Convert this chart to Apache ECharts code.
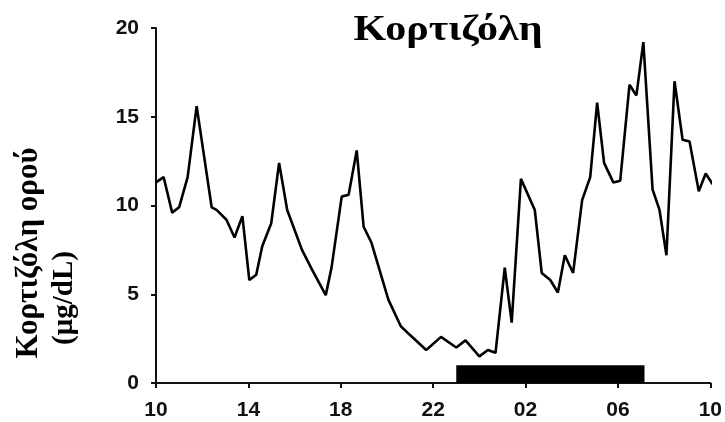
<!DOCTYPE html>
<html>
<head>
<meta charset="utf-8">
<script src="https://cdn.jsdelivr.net/npm/echarts@6/dist/echarts.min.js"></script>
<style>html,body{margin:0;padding:0;background:#fff}#c{width:725px;height:422px}</style>
</head>
<body>
<div id="c"></div>
<script>
// Hours elapsed since 10:00 (clock time of each sample)
var hours = [0, 0.33, 0.7, 1.0, 1.37, 1.76, 2.41, 2.62, 3.05, 3.4, 3.74, 4.04, 4.34, 4.6, 4.99, 5.33, 5.68, 6.32, 6.75, 7.35, 7.6, 8.04, 8.34, 8.69, 8.99, 9.33, 10.06, 10.6, 11.0, 11.7, 12.34, 13.0, 13.4, 14.0, 14.37, 14.7, 15.1, 15.4, 15.8, 16.4, 16.7, 17.07, 17.4, 17.7, 18.06, 18.45, 18.8, 19.1, 19.4, 19.8, 20.1, 20.5, 20.8, 21.1, 21.5, 21.8, 22.1, 22.45, 22.8, 23.1, 23.5, 23.8, 24.1];
// Serum cortisol (μg/dL)
var cortisol = [11.3, 11.6, 9.6, 9.9, 11.6, 15.6, 9.9, 9.75, 9.2, 8.2, 9.4, 5.8, 6.1, 7.7, 9.0, 12.4, 9.75, 7.5, 6.4, 4.95, 6.5, 10.5, 10.6, 13.1, 8.8, 7.9, 4.7, 3.2, 2.7, 1.86, 2.6, 2.0, 2.4, 1.5, 1.86, 1.7, 6.5, 3.4, 11.5, 9.75, 6.2, 5.8, 5.1, 7.2, 6.2, 10.3, 11.6, 15.8, 12.4, 11.3, 11.4, 16.8, 16.2, 19.2, 10.9, 9.75, 7.2, 17.0, 13.7, 13.6, 10.8, 11.8, 11.2];
var xTickLabels = ['10', '14', '18', '22', '02', '06', '10'];
var yTicks = [0, 5, 10, 15, 20];
// Sleep period bar (hours since 10:00) and its height in axis units
var sleepStart = 13.0;
var sleepEnd = 21.15;
var sleepHeight = 1.0;

var titleText = 'Κορτιζόλη';
var yNameLine1 = 'Κορτιζόλη ορού';
var yNameLine2 = '(μg/dL)';

var chart = echarts.init(document.getElementById('c'));
var points = hours.map(function (h, i) { return [h, cortisol[i]]; });

chart.setOption({
  animation: false,
  backgroundColor: '#ffffff',
  grid: { left: 156, right: 10, top: 28, bottom: 39 },
  xAxis: {
    type: 'value', min: 0, max: 24, interval: 4,
    axisLine: { show: true, onZero: false, lineStyle: { color: '#111', width: 2 } },
    axisTick: { show: true, length: 5, lineStyle: { color: '#111', width: 2 } },
    splitLine: { show: false },
    axisLabel: {
      margin: 17, color: '#111', fontFamily: 'Liberation Sans', fontWeight: 'bold', fontSize: 21,
      formatter: function (v) { return xTickLabels[Math.round(v / 4)]; }
    }
  },
  yAxis: {
    type: 'value', min: yTicks[0], max: yTicks[yTicks.length - 1], interval: 5,
    axisLine: { show: true, lineStyle: { color: '#111', width: 2 } },
    axisTick: { show: true, length: 5, lineStyle: { color: '#111', width: 2 } },
    splitLine: { show: false },
    axisLabel: { margin: 17, color: '#111', fontFamily: 'Liberation Sans', fontWeight: 'bold', fontSize: 21 }
  },
  graphic: [
    {
      type: 'text', x: 448, y: 31, scaleX: 1.2,
      style: { text: titleText, fontFamily: 'Liberation Serif', fontWeight: 'bold', fontSize: 35, fill: '#000', textAlign: 'center', textVerticalAlign: 'middle' }
    },
    {
      type: 'text', x: 29, y: 253, rotation: Math.PI / 2,
      style: { text: yNameLine1, fontFamily: 'Liberation Serif', fontWeight: 'bold', fontSize: 31, fill: '#000', textAlign: 'center', textVerticalAlign: 'middle' }
    },
    {
      type: 'text', x: 65, y: 298, rotation: Math.PI / 2,
      style: { text: yNameLine2, fontFamily: 'Liberation Serif', fontWeight: 'bold', fontSize: 29, fill: '#000', textAlign: 'center', textVerticalAlign: 'middle' }
    }
  ],
  series: [{
    type: 'line',
    data: points,
    showSymbol: false,
    lineStyle: { color: '#000', width: 2.6 },
    clip: false,
    markArea: {
      silent: true,
      itemStyle: { color: '#000' },
      data: [[{ coord: [sleepStart, 0] }, { coord: [sleepEnd, sleepHeight] }]]
    }
  }]
});
</script>
</body>
</html>
